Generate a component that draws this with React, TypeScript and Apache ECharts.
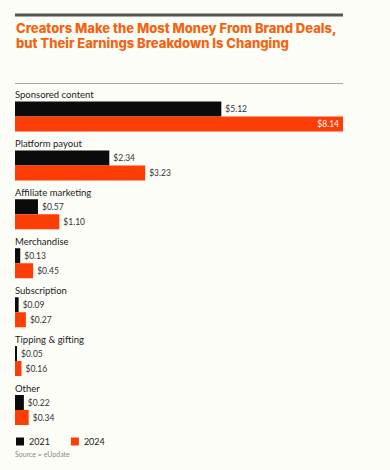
import React, { useEffect, useRef } from "react";
import * as echarts from "echarts";

const categories = [
  "Sponsored content",
  "Platform payout",
  "Affiliate marketing",
  "Merchandise",
  "Subscription",
  "Tipping & gifting",
  "Other",
];
const values2021 = [5.12, 2.34, 0.57, 0.13, 0.09, 0.05, 0.22];
const values2024 = [8.14, 3.23, 1.1, 0.45, 0.27, 0.16, 0.34];
const seriesNames = ["2021", "2024"];
const titleText = "Creators Make the Most Money From Brand Deals,\nbut Their Earnings Breakdown Is Changing";
const sourceText = "Source = eUpdate";

const FONT = "Lato, 'Noto Sans', sans-serif";
const BLACK = "#0b0b0b";
const ORANGE = "#fc3d05";
const XMAX = 8.14;

export default function App() {
  const ref = useRef<HTMLDivElement>(null);

  useEffect(() => {
    if (!ref.current) return;
    const chart = echarts.init(ref.current, null, { renderer: "svg" });

    const fmt = (p: any) => "$" + Number(p.value).toFixed(2);

    const makeData = (vals: number[]) =>
      vals.map((v) =>
        v / XMAX > 0.9
          ? { value: v, label: { position: "insideRight", color: "#ffffff", distance: 4 } }
          : { value: v }
      );

    chart.setOption({
      animation: false,
      backgroundColor: "#fdfdf8",
      textStyle: { fontFamily: FONT },
      title: {
        text: titleText,
        left: 11,
        top: 15,
        textStyle: {
          fontFamily: "Inter, Lato, sans-serif",
          fontSize: 13,
          fontWeight: 800,
          color: "#f4630f",
          lineHeight: 15.5,
        },
      },
      graphic: [
        {
          type: "line",
          shape: { x1: 15, y1: 15, x2: 343, y2: 15 },
          style: { stroke: "#555555", lineWidth: 3 },
        },
        {
          type: "line",
          shape: { x1: 15, y1: 83.5, x2: 343, y2: 83.5 },
          style: { stroke: "#a8a8a8", lineWidth: 1 },
        },
        {
          type: "text",
          left: 15,
          top: 450,
          style: { text: sourceText, fontSize: 7, fill: "#8a8a8a", fontFamily: FONT },
        },
      ],
      legend: {
        left: 11,
        top: 432,
        icon: "rect",
        itemWidth: 8,
        itemHeight: 8,
        itemGap: 21,
        textStyle: { fontSize: 9, color: "#222", fontFamily: FONT },
        data: seriesNames,
      },
      grid: { left: 15, right: 47, top: 92, bottom: 35.5, containLabel: false },
      xAxis: {
        type: "value",
        min: 0,
        max: XMAX,
        show: false,
      },
      yAxis: {
        type: "category",
        inverse: true,
        data: categories,
        axisLine: { show: false },
        axisTick: { show: false },
        splitLine: { show: false },
        z: 10,
        axisLabel: {
          inside: true,
          margin: 0,
          align: "left",
          verticalAlign: "middle",
          interval: 0,
          formatter: (v: string) => `{t|${v}}\n{s|}`,
          rich: {
            t: { fontSize: 9.5, lineHeight: 11, color: "#222", fontFamily: FONT },
            s: { height: 43, lineHeight: 43, fontSize: 1 },
          },
        },
      },
      series: [
        {
          name: seriesNames[0],
          type: "bar",
          data: makeData(values2021),
          barWidth: 15,
          barGap: "0%",
          itemStyle: { color: BLACK },
          label: { show: true, position: "right", distance: 4, formatter: fmt, fontSize: 8.5, color: "#333", fontFamily: FONT },
        },
        {
          name: seriesNames[1],
          type: "bar",
          data: makeData(values2024),
          barWidth: 15,
          barGap: "0%",
          itemStyle: { color: ORANGE },
          label: { show: true, position: "right", distance: 4, formatter: fmt, fontSize: 8.5, color: "#333", fontFamily: FONT },
        },
      ],
    });

    return () => chart.dispose();
  }, []);

  return (
    <div
      ref={ref}
      style={{ position: "fixed", left: 0, top: 0, width: 390, height: 470 }}
    />
  );
}
